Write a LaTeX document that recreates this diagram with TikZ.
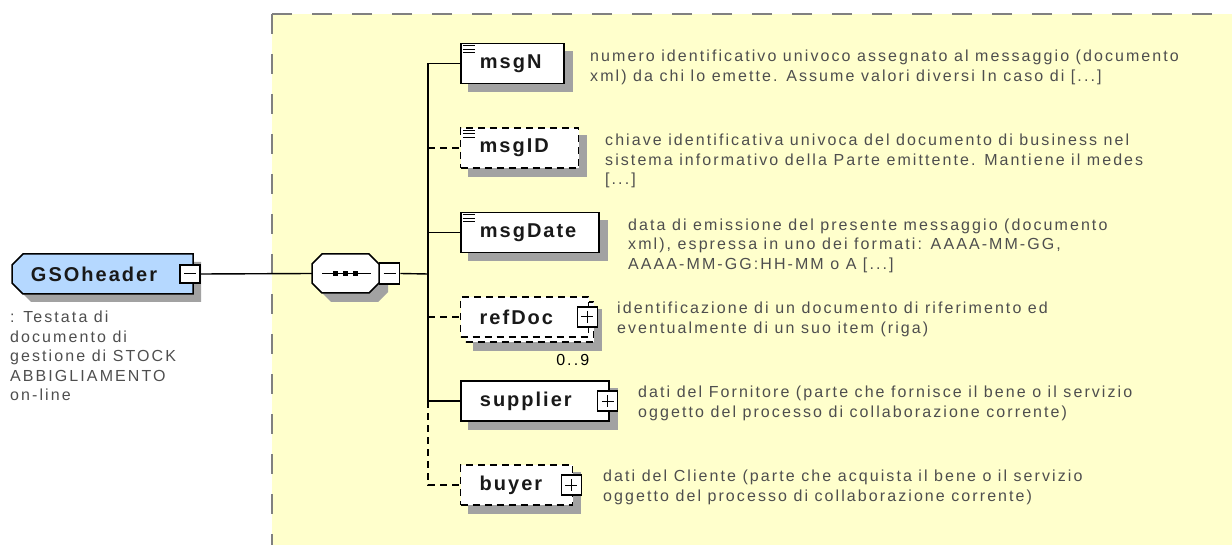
\documentclass[tikz,border=0pt]{standalone}
\usepackage{fontspec}
\setmainfont{Liberation Sans}
\newfontfamily\descfont[LetterSpace=13]{Liberation Sans}
\newfontfamily\labfont[LetterSpace=10]{Liberation Sans}
\usetikzlibrary{positioning}

\definecolor{panelyellow}{RGB}{255,255,204}
\definecolor{panelgray}{RGB}{128,128,128}
\definecolor{shadowgray}{RGB}{162,162,162}
\definecolor{headblue}{RGB}{181,216,255}
\definecolor{desctext}{RGB}{78,78,78}
\definecolor{labeltext}{RGB}{25,25,25}

\pgfdeclarelayer{panel}
\pgfdeclarelayer{shadow}
\pgfdeclarelayer{body}
\pgfsetlayers{panel,shadow,body,main}

% label flush left inside a box
\newcommand{\boxlabel}[2]{\makebox[#1][l]{\hspace{19pt}#2}}
% shadow under a rectangular node
\newcommand{\boxshadow}[1]{%
  \fill[shadowgray] ([shift={(8,8)}]#1.north west) rectangle ([shift={(8,8)}]#1.south east);}
% outline cut at the two left corners: node, cut, offset
\newcommand{\leftcut}[3]{%
  ([shift={(#3+#2,#3)}]#1.north west) -- ([shift={(#3,#3)}]#1.north east) -- ([shift={(#3,#3)}]#1.south east)
  -- ([shift={(#3+#2,#3)}]#1.south west) -- ([shift={(#3,#3-#2)}]#1.south west) -- ([shift={(#3,#3+#2)}]#1.north west) -- cycle}
% outline cut at all four corners: node, cut, offset
\newcommand{\allcut}[3]{%
  ([shift={(#3+#2,#3)}]#1.north west) -- ([shift={(#3-#2,#3)}]#1.north east) -- ([shift={(#3,#3+#2)}]#1.north east)
  -- ([shift={(#3,#3-#2)}]#1.south east) -- ([shift={(#3-#2,#3)}]#1.south east) -- ([shift={(#3+#2,#3)}]#1.south west)
  -- ([shift={(#3,#3-#2)}]#1.south west) -- ([shift={(#3,#3+#2)}]#1.north west) -- cycle}
% expand / collapse boxes
\newcommand{\plusbox}[2]{%
  \node[pmbox] (#1) at (#2) {};
  \draw[line width=1pt] ([xshift=-6pt]#1.center) -- ([xshift=6pt]#1.center)
    ([yshift=-6pt]#1.center) -- ([yshift=6pt]#1.center);}
\newcommand{\minusbox}[2]{%
  \node[pmbox, minimum height=18pt] (#1) at (#2) {};
  \draw[line width=1pt] ([xshift=-6pt]#1.center) -- ([xshift=6pt]#1.center);}
% marker of a simple type
\newcommand{\simplemark}[1]{%
  \foreach \dy in {3,6.5,10}
    {\draw[line width=1pt] ([shift={(3,\dy)}]#1.north west) -- ++(12,0);}}

\begin{document}
\begin{tikzpicture}[x=1pt,y=1pt,yscale=-1,xscale=1,
  headbox/.style={rectangle, draw=none, outer sep=0pt, minimum width=181pt, minimum height=40pt, inner sep=0pt,
    text=labeltext, font=\labfont\bfseries\fontsize{20}{22}\selectfont},
  seqbox/.style={rectangle, draw=none, outer sep=0pt, minimum width=67pt, minimum height=39pt, inner sep=0pt},
  elem/.style={rectangle, draw=black, line width=1.8pt, fill=white, anchor=west,
    minimum height=40pt, inner sep=0pt, text=labeltext, font=\labfont\bfseries\fontsize{20}{22}\selectfont},
  optelem/.style={elem, line width=1.4pt, dash pattern=on 7pt off 5pt},
  pmbox/.style={rectangle, draw=black, line width=1.3pt, fill=white, minimum width=20pt, minimum height=20pt, inner sep=0pt},
  desc/.style={anchor=north west, inner sep=0pt, align=left, text=desctext, font=\descfont\fontsize{16}{19.5}\selectfont},
  conn/.style={line width=1.4pt},
  optconn/.style={conn, dash pattern=on 7pt off 5pt}]
\useasboundingbox (0,0) rectangle (1232,545);

%Shape: yellow panel of the content model
\begin{pgfonlayer}{panel}
\fill[panelyellow] (272,14) rectangle (1232,545);
\draw[panelgray, line width=2pt, dash pattern=on 20pt off 20pt] (272,14) -- (1232,14);
\draw[panelgray, line width=2pt, dash pattern=on 20pt off 20pt] (272,14) -- (272,545);
\end{pgfonlayer}

%Shape: root element
\node[headbox] (GSO) at (102.5,274) {\boxlabel{181pt}{GSOheader}};
\minusbox{GSOminus}{190,274}

%Shape: sequence compositor
\node[seqbox] (seq) at (345.5,273.5) {};
\node[pmbox, anchor=west, minimum height=21pt] (seqminus) at (seq.east) {};
\draw[line width=1pt] ([xshift=-6pt]seqminus.center) -- ([xshift=6pt]seqminus.center);
\draw[line width=1.3pt] ([xshift=10pt]seq.west) -- ([xshift=-8pt]seq.east);
\foreach \dx in {-10,0,10}
  {\fill ([xshift=\dx pt]seq.center) ++(-2.5,-2.5) rectangle ++(5,5);}

\begin{pgfonlayer}{body}
\draw[line width=1.5pt, fill=headblue] \leftcut{GSO}{11}{0};
\draw[line width=1.5pt, fill=white] \allcut{seq}{10}{0};
\end{pgfonlayer}

%Shape: child elements
\node[elem] (msgN) at (460,63.5) {\boxlabel{103pt}{msgN}};
\node[optelem] (msgID) at (460,148) {\boxlabel{118pt}{msgID}};
\node[elem] (msgDate) at (460,232.5) {\boxlabel{138pt}{msgDate}};
\node[optelem] (refDocback) at (465,322) {\boxlabel{128pt}{}};
\node[optelem] (refDoc) at (460,317) {\boxlabel{128pt}{refDoc}};
\node[elem] (supplier) at (460,401) {\boxlabel{148pt}{supplier}};
\node[optelem] (buyer) at (460,485) {\boxlabel{112pt}{buyer}};

\simplemark{msgN}
\simplemark{msgID}
\simplemark{msgDate}
\plusbox{refDocplus}{[xshift=-2pt]refDoc.east}
\plusbox{supplierplus}{[xshift=-2pt]supplier.east}
\plusbox{buyerplus}{[xshift=-2pt]buyer.east}

%Shape: shadows
\begin{pgfonlayer}{shadow}
\fill[shadowgray] \leftcut{GSO}{11}{8};
\fill[shadowgray] \allcut{seq}{10}{9};
\foreach \n in {msgN,msgID,msgDate,refDocback,supplier,buyer}
  {\boxshadow{\n}}
\end{pgfonlayer}

%Straight Lines
\coordinate (bus) at (428,274);
\draw[conn] (GSOminus.east) -- (seq.west);
\draw[conn] (seqminus.east) -- (bus);
\draw[conn] (msgN.west) -- (bus |- msgN.west) -- (bus |- supplier.west) -- (supplier.west);
\draw[conn] (bus |- msgDate.west) -- (msgDate.west);
\draw[optconn] (bus |- msgID.west) -- (msgID.west);
\draw[optconn] (bus |- refDoc.west) -- (refDoc.west);
\draw[optconn] (bus |- supplier.west) -- (bus |- buyer.west) -- (buyer.west);

% Text Node
\node[desc, text=black, anchor=north east] (refDococc) at ([shift={(-5,11)}]refDocback.south east) {0..9};
% Text Node
\node[desc] (GSOdesc) at (10,311) {: Testata di\\documento di\\gestione di STOCK\\ABBIGLIAMENTO\\on-line};
% Text Node
\node[desc] (msgNdesc) at (590,50) {numero identificativo univoco assegnato al messaggio (documento\\xml) da chi lo emette. Assume valori diversi In caso di [...]};
% Text Node
\node[desc] (msgIDdesc) at (605,134) {chiave identificativa univoca del documento di business nel\\sistema informativo della Parte emittente. Mantiene il medes\\{[...]}};
% Text Node
\node[desc] (msgDatedesc) at (628,218.5) {data di emissione del presente messaggio (documento\\xml), espressa in uno dei formati: AAAA-MM-GG,\\AAAA-MM-GG:HH-MM o A [...]};
% Text Node
\node[desc] (refDocdesc) at (617,302) {identificazione di un documento di riferimento ed\\eventualmente di un suo item (riga)};
% Text Node
\node[desc] (supplierdesc) at (638,386) {dati del Fornitore (parte che fornisce il bene o il servizio\\oggetto del processo di collaborazione corrente)};
% Text Node
\node[desc] (buyerdesc) at (603,470) {dati del Cliente (parte che acquista il bene o il servizio\\oggetto del processo di collaborazione corrente)};

\end{tikzpicture}
\end{document}
